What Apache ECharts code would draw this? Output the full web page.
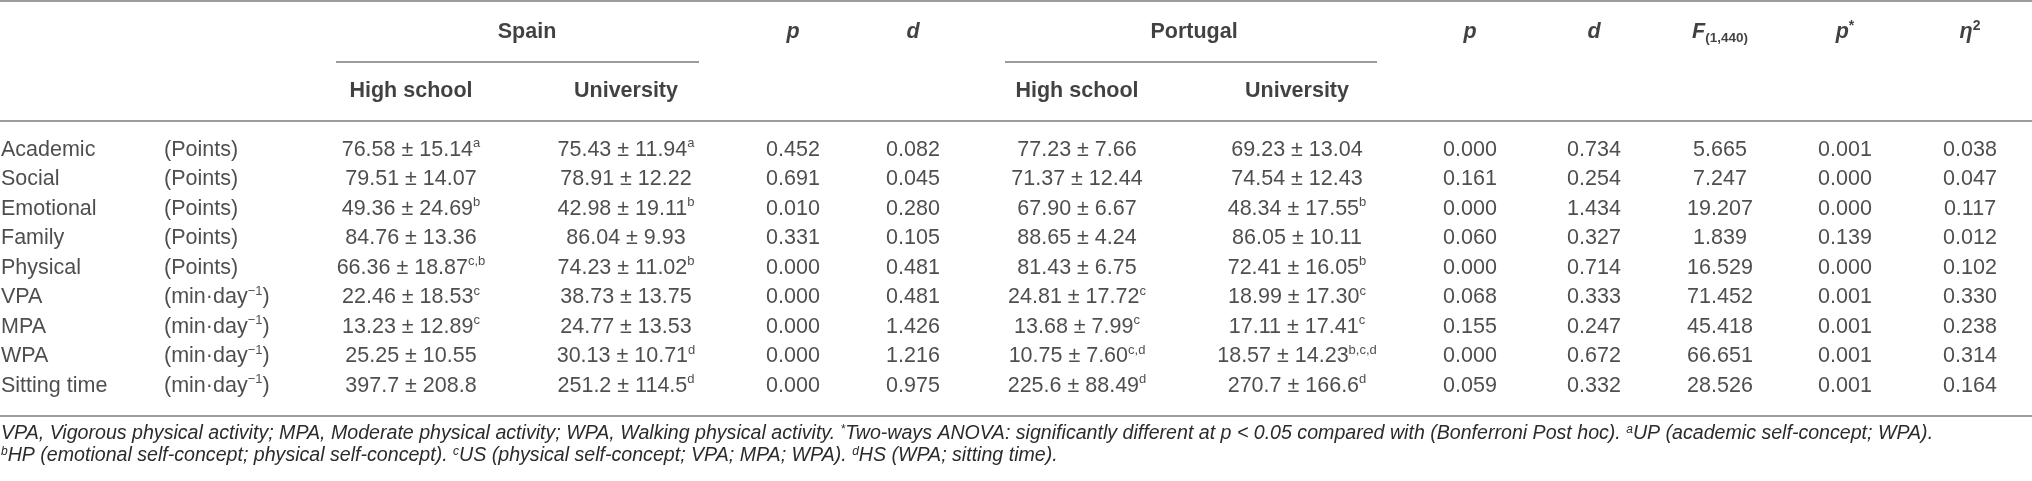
<!DOCTYPE html>
<html>
<head>
<meta charset="utf-8">
<script src="https://cdn.jsdelivr.net/npm/echarts@6/dist/echarts.min.js"></script>
<style>
html, body { margin: 0; padding: 0; background: #fff; }
#table { width: 2032px; height: 481px; }
</style>
</head>
<body>
<div id="table"></div>
<script>
var rowNames = ['Academic', 'Social', 'Emotional', 'Family', 'Physical', 'VPA', 'MPA', 'WPA', 'Sitting time'];
var units = ['Points', 'Points', 'Points', 'Points', 'Points', 'min', 'min', 'min', 'min'];

var spainHS = ['76.58 ± 15.14', '79.51 ± 14.07', '49.36 ± 24.69', '84.76 ± 13.36', '66.36 ± 18.87', '22.46 ± 18.53', '13.23 ± 12.89', '25.25 ± 10.55', '397.7 ± 208.8'];
var spainHSSup = ['a', '', 'b', '', 'c,b', 'c', 'c', '', ''];
var spainUni = ['75.43 ± 11.94', '78.91 ± 12.22', '42.98 ± 19.11', '86.04 ± 9.93', '74.23 ± 11.02', '38.73 ± 13.75', '24.77 ± 13.53', '30.13 ± 10.71', '251.2 ± 114.5'];
var spainUniSup = ['a', '', 'b', '', 'b', '', '', 'd', 'd'];
var spainP = ['0.452', '0.691', '0.010', '0.331', '0.000', '0.000', '0.000', '0.000', '0.000'];
var spainD = ['0.082', '0.045', '0.280', '0.105', '0.481', '0.481', '1.426', '1.216', '0.975'];

var portHS = ['77.23 ± 7.66', '71.37 ± 12.44', '67.90 ± 6.67', '88.65 ± 4.24', '81.43 ± 6.75', '24.81 ± 17.72', '13.68 ± 7.99', '10.75 ± 7.60', '225.6 ± 88.49'];
var portHSSup = ['', '', '', '', '', 'c', 'c', 'c,d', 'd'];
var portUni = ['69.23 ± 13.04', '74.54 ± 12.43', '48.34 ± 17.55', '86.05 ± 10.11', '72.41 ± 16.05', '18.99 ± 17.30', '17.11 ± 17.41', '18.57 ± 14.23', '270.7 ± 166.6'];
var portUniSup = ['', '', 'b', '', 'b', 'c', 'c', 'b,c,d', 'd'];
var portP = ['0.000', '0.161', '0.000', '0.060', '0.000', '0.068', '0.155', '0.000', '0.059'];
var portD = ['0.734', '0.254', '1.434', '0.327', '0.714', '0.333', '0.247', '0.672', '0.332'];

var fValues = ['5.665', '7.247', '19.207', '1.839', '16.529', '71.452', '45.418', '66.651', '28.526'];
var pStar = ['0.001', '0.000', '0.000', '0.139', '0.000', '0.001', '0.001', '0.001', '0.001'];
var eta2 = ['0.038', '0.047', '0.117', '0.012', '0.102', '0.330', '0.238', '0.314', '0.164'];

var footnote1 = 'VPA, Vigorous physical activity; MPA, Moderate physical activity; WPA, Walking physical activity. {sup|*}Two-ways ANOVA: significantly different at p < 0.05 compared with (Bonferroni Post hoc). {sup|a}UP (academic self-concept; WPA).';
var footnote2 = '{sup|b}HP (emotional self-concept; physical self-concept). {sup|c}US (physical self-concept; VPA; MPA; WPA). {sup|d}HS (WPA; sitting time).';

// layout: column centres on the x axis (px units) and row slots on the y axis
var col = {name: 1, unit: 164, esHS: 411, esUni: 626, esP: 793, esD: 913,
    ptHS: 1077, ptUni: 1297, ptP: 1470, ptD: 1594, F: 1720, pStar: 1845, eta: 1970};
var rowStep = 29.5, firstRowY = 32, bodyStart = 4;
var font = 'Liberation Sans';

var cells = function (x, texts, sups) {
    return texts.map(function (t, i) {
        var s = sups && sups[i] ? '{sup|' + sups[i] + '}' : '';
        return {value: [x, bodyStart + i], name: t + s};
    });
};

var unitText = units.map(function (u) {
    return u === 'min' ? '(min·day{sup|−1})' : '(Points)';
});

var bodyData = [].concat(
    cells(col.esHS, spainHS, spainHSSup),
    cells(col.esUni, spainUni, spainUniSup),
    cells(col.esP, spainP),
    cells(col.esD, spainD),
    cells(col.ptHS, portHS, portHSSup),
    cells(col.ptUni, portUni, portUniSup),
    cells(col.ptP, portP),
    cells(col.ptD, portD),
    cells(col.F, fValues),
    cells(col.pStar, pStar),
    cells(col.eta, eta2)
);
var leftData = [].concat(cells(col.name, rowNames), cells(col.unit, unitText));

var headerData = [
    {value: [527, 0], name: 'Spain'},
    {value: [col.esHS, 2], name: 'High school'},
    {value: [col.esUni, 2], name: 'University'},
    {value: [col.esP, 0], name: '{i|p}'},
    {value: [col.esD, 0], name: '{i|d}'},
    {value: [1194, 0], name: 'Portugal'},
    {value: [col.ptHS, 2], name: 'High school'},
    {value: [col.ptUni, 2], name: 'University'},
    {value: [col.ptP, 0], name: '{i|p}'},
    {value: [col.ptD, 0], name: '{i|d}'},
    {value: [col.F, 0], name: '{i|F}{sub|(1,440)}'},
    {value: [col.pStar, 0], name: '{i|p}{sup|*}'},
    {value: [col.eta, 0], name: '{i|η}{sup|2}'}
];

var supStyle = {fontSize: 13, fontFamily: font, color: '#222', verticalAlign: 'top', lineHeight: 13};
var textSeries = function (name, data, align, bold) {
    return {
        name: name,
        type: 'scatter',
        data: data,
        symbol: 'circle',
        symbolSize: 1,
        silent: true,
        itemStyle: {color: 'rgba(0,0,0,0)'},
        label: {
            show: true,
            position: 'inside',
            align: align,
            verticalAlign: 'middle',
            formatter: function (p) { return p.name; },
            fontFamily: font,
            fontSize: 21.5,
            lineHeight: 26,
            fontWeight: bold ? 'bold' : 'normal',
            color: bold ? '#111' : '#222',
            rich: {
                sup: bold ? {fontSize: 14, fontFamily: font, color: '#111', verticalAlign: 'top', lineHeight: 12} : supStyle,
                sub: {fontSize: 13.5, fontWeight: 'bold', fontFamily: font, color: '#111', verticalAlign: 'bottom', lineHeight: 14},
                i: {fontSize: 21.5, fontWeight: 'bold', fontStyle: 'italic', fontFamily: font, color: '#111', lineHeight: 26}
            }
        }
    };
};

var rule = function (x1, x2, k) {
    return [{coord: [x1, k]}, {coord: [x2, k]}];
};

var yMin = -firstRowY / rowStep;
var yMax = yMin + 481 / rowStep;

var noteStyle = function (text) {
    return {
        text: text,
        fontFamily: font,
        fontSize: 19.6,
        fontStyle: 'italic',
        fill: '#2b2b2b',
        align: 'left',
        verticalAlign: 'middle',
        rich: {sup: {fontSize: 12, fontStyle: 'italic', fontFamily: font, fill: '#2b2b2b', verticalAlign: 'top', lineHeight: 12}}
    };
};

var table = echarts.init(document.getElementById('table'));
table.setOption({
    animation: false,
    grid: {left: 0, right: 0, top: 0, bottom: 0},
    xAxis: {type: 'value', min: 0, max: 2032, show: false},
    yAxis: {type: 'value', inverse: true, min: yMin, max: yMax, show: false},
    series: [
        textSeries('body', bodyData, 'center', false),
        textSeries('rows', leftData, 'left', false),
        textSeries('header', headerData, 'center', true),
        {
            name: 'rules',
            type: 'scatter',
            data: [],
            markLine: {
                silent: true,
                symbol: ['none', 'none'],
                label: {show: false},
                lineStyle: {type: 'solid', color: '#9c9c9c', width: 2},
                data: [
                    rule(0, 2032, yMin + 1 / rowStep),
                    rule(336, 699, 1),
                    rule(1005, 1377, 1),
                    rule(0, 2032, 3),
                    rule(0, 2032, 13)
                ]
            }
        }
    ],
    graphic: [
        {type: 'text', x: 1, y: 434, style: noteStyle(footnote1)},
        {type: 'text', x: 1, y: 456, style: noteStyle(footnote2)}
    ]
});
</script>
</body>
</html>
